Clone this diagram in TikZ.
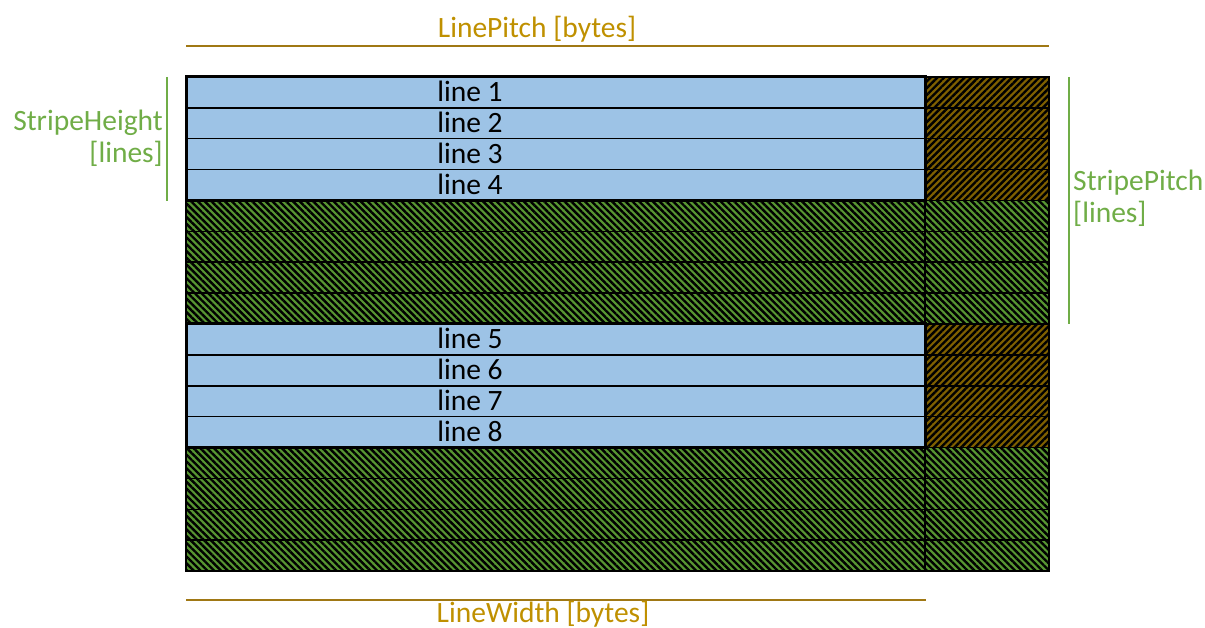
\documentclass[tikz,border=0pt]{standalone}
\usepackage{fontspec}
\setmainfont{Carlito}
\usetikzlibrary{patterns.meta}
\definecolor{cblue}{RGB}{157,195,230}
\definecolor{cbrown}{RGB}{127,96,0}
\definecolor{cgreen}{RGB}{88,150,50}
\definecolor{cgold}{RGB}{191,144,0}
\definecolor{cgoldline}{RGB}{160,120,20}
\definecolor{clight}{RGB}{112,173,71}
\tikzset{
  cell/.style={draw=black, line width=1.5pt, anchor=north west, minimum height=30.875pt, inner sep=0pt, outer sep=0pt},
  bluecell/.style={cell, fill=cblue, minimum width=739pt},
  browncell/.style={cell, fill=cbrown, minimum width=124pt,
     postaction={pattern={Lines[angle=45,distance=4.8pt,line width=2.4pt]}, pattern color=black}},
  greenleft/.style={cell, fill=cgreen, minimum width=739pt,
     postaction={pattern={Lines[angle=-45,distance=4.8pt,line width=2.4pt]}, pattern color=black}},
  greenright/.style={cell, fill=cgreen, minimum width=124pt,
     postaction={pattern={Lines[angle=-45,distance=4.8pt,line width=2.4pt]}, pattern color=black}},
  bigtext/.style={font=\fontsize{29.5}{32}\selectfont, inner sep=0pt},
  goldtext/.style={bigtext, text=cgold},
  greentext/.style={bigtext, text=clight, align=#1},
  goldline/.style={draw=cgoldline, line width=2pt},
  greenline/.style={draw=clight, line width=1.6pt}
}
\begin{document}
\begin{tikzpicture}[x=1pt,y=-1pt]
\useasboundingbox (0,0) rectangle (1205,628);
% blue rows
\foreach \i/\t in {0/1,1/2,2/3,3/4,8/5,9/6,10/7,11/8}{
  \node[bluecell] (L\i) at (186,{77+\i*30.875}) {};
  \node[browncell] (R\i) at (925,{77+\i*30.875}) {};
  \node[bigtext] (t\t) at (470,{76+(\i+0.5)*30.875}) {line \t};
}
% green rows
\foreach \i in {4,5,6,7,12,13,14,15}{
  \node[greenleft] (L\i) at (186,{77+\i*30.875}) {};
  \node[greenright] (R\i) at (925,{77+\i*30.875}) {};
}
% thick borders around the stripes
\draw[line width=3pt] (L0.north west) rectangle (L3.south east);
\draw[line width=3pt] (L8.north west) rectangle (L11.south east);
% dimension lines
\coordinate (pa) at (186,46);
\coordinate (pb) at (1049,46);
\draw[goldline] (pa) -- (pb);
\node[goldtext] (pitch) at (537,29) {LinePitch [bytes]};
\coordinate (wa) at (186,600);
\coordinate (wb) at (926,600);
\draw[goldline] (wa) -- (wb);
\node[goldtext] (width) at (543,614.5) {LineWidth [bytes]};
\coordinate (ha) at (167,77);
\coordinate (hb) at (167,201);
\draw[greenline] (ha) -- (hb);
\node[greentext=right, anchor=east] (sh) at (163,138) {StripeHeight\\{}[lines]};
\coordinate (sa) at (1069,77);
\coordinate (sb) at (1069,324);
\draw[greenline] (sa) -- (sb);
\node[greentext=left, anchor=west] (sp) at (1073,198) {StripePitch\\{}[lines]};
\end{tikzpicture}
\end{document}
